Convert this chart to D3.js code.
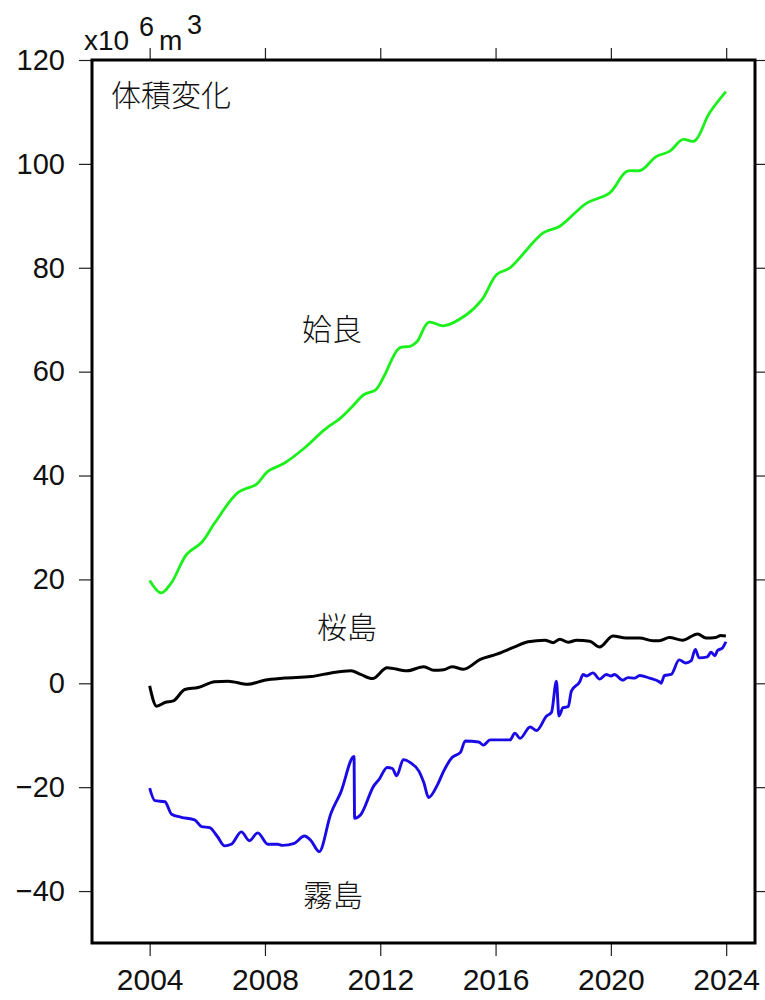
<!DOCTYPE html>
<html><head><meta charset="utf-8">
<script src="https://cdn.jsdelivr.net/npm/d3@7"></script>
<style>body{margin:0;background:#fff}svg{display:block}</style>
</head><body>
<script>
// ---- data ----
const xTicks = [2004, 2008, 2012, 2016, 2020, 2024];
const yTicks = [-40, -20, 0, 20, 40, 60, 80, 100, 120];

const airaT = [2004.0,2004.4,2004.76,2005.28,2005.8,2006.26,2007.06,2007.7,2008.1,2008.68,2009.37,2010.06,2010.63,2010.98,2011.44,2011.84,2012.13,2012.65,2013.05,2013.28,2013.68,2014.2,2015.0,2015.52,2016.04,2016.5,2017.65,2018.23,2019.15,2019.96,2020.53,2021.05,2021.57,2022.03,2022.49,2022.9,2023.41,2023.99];
const airaV = [19.8,17.4,19.4,24.8,27.1,30.9,36.7,38.3,40.8,42.4,45.3,48.8,51.1,53.0,55.6,56.5,59.1,64.5,64.9,65.8,69.5,68.8,71.0,73.8,78.7,80.0,86.7,88.0,92.4,94.4,98.5,98.8,101.4,102.4,104.7,104.4,109.7,113.9];

const sakuraT = [2004.0,2004.24,2004.53,2004.82,2005.22,2005.68,2006.26,2006.72,2007.41,2007.98,2008.68,2009.6,2010.29,2010.98,2011.32,2011.73,2012.24,2012.93,2013.51,2013.86,2014.2,2014.49,2014.89,2015.47,2016.04,2016.62,2017.13,2017.71,2018.0,2018.23,2018.52,2018.81,2019.27,2019.61,2020.07,2020.53,2021.0,2021.46,2021.68,2022.03,2022.49,2023.01,2023.3,2023.64,2023.81,2023.99];
const sakuraV = [-0.5,-4.4,-3.7,-3.4,-1.2,-0.8,0.3,0.4,-0.2,0.6,1.0,1.3,2.0,2.4,1.7,0.9,3.0,2.4,3.2,2.5,2.6,3.2,2.7,4.6,5.6,6.9,8.0,8.3,7.8,8.5,7.9,8.3,8.1,7.0,9.1,8.7,8.7,8.2,8.2,8.8,8.3,9.5,8.7,8.8,9.2,9.1];

const kirishimaT = [2004.0,2004.18,2004.53,2004.76,2005.1,2005.56,2005.8,2006.08,2006.35,2006.6,2006.83,2007.18,2007.46,2007.75,2008.1,2008.44,2008.61,2009.02,2009.37,2009.6,2009.88,2010.29,2010.63,2011.09,2011.11,2011.32,2011.78,2011.96,2012.24,2012.42,2012.57,2012.8,2013.05,2013.34,2013.51,2013.68,2013.97,2014.2,2014.49,2014.78,2014.95,2015.41,2015.58,2015.81,2016.5,2016.67,2016.85,2017.2,2017.42,2017.77,2017.94,2018.11,2018.2,2018.34,2018.52,2018.63,2018.92,2019.04,2019.15,2019.38,2019.61,2019.84,2020.01,2020.12,2020.41,2020.59,2020.82,2021.0,2021.34,2021.68,2021.74,2021.86,2022.09,2022.37,2022.6,2022.78,2022.93,2023.06,2023.35,2023.47,2023.61,2023.7,2023.87,2023.99];
const kirishimaV = [-20.2,-22.6,-22.8,-25.2,-25.8,-26.3,-27.6,-27.8,-29.5,-31.3,-31.0,-28.6,-30.3,-28.8,-31.0,-31.0,-31.2,-30.8,-29.4,-30.3,-32.4,-25.0,-21.0,-14.1,-26.0,-25.3,-19.7,-18.5,-16.2,-16.4,-17.8,-14.7,-15.3,-16.9,-19.1,-22.0,-19.7,-16.9,-14.3,-13.3,-11.1,-11.3,-11.9,-10.9,-10.9,-9.6,-10.6,-8.4,-9.1,-6.3,-5.6,0.4,-6.3,-4.7,-4.5,-1.5,0.3,1.7,1.4,2.0,0.8,1.7,1.4,1.7,0.6,1.1,1.0,1.5,1.0,0.3,0.0,1.5,1.7,4.5,3.9,4.3,6.5,4.9,5.1,6.0,5.3,6.3,6.8,8.0];

// ---- layout ----
const W = 765, H = 1000;
const L = 92, R = 755, T = 60, B = 943;
const svg = d3.select("body").append("svg").attr("width", W).attr("height", H);
const x = d3.scaleLinear().domain([2002, 2025]).range([L, R]);
const y = d3.scaleLinear().domain([-50, 120]).range([B, T]);
const numFont = "'Liberation Sans', Arial, sans-serif";
const jpFont = "'Noto Sans CJK JP', sans-serif";

// axes (ticks outward on all sides)
const tickStyle = g => { g.select(".domain").remove(); g.selectAll(".tick line").attr("stroke", "#222").attr("stroke-width", 1.2); };
svg.append("g").attr("transform", `translate(0,${B})`)
  .call(d3.axisBottom(x).tickValues(xTicks).tickSize(13).tickPadding(13).tickFormat(d3.format("d")))
  .call(tickStyle)
  .call(g => g.selectAll("text").attr("font-family", numFont).attr("font-size", 30).attr("fill", "#111"));
svg.append("g").attr("transform", `translate(0,${T})`)
  .call(d3.axisTop(x).tickValues(xTicks).tickSize(12).tickFormat(""))
  .call(tickStyle);
svg.append("g").attr("transform", `translate(${L},0)`)
  .call(d3.axisLeft(y).tickValues(yTicks).tickSize(13).tickPadding(14).tickFormat(d => d < 0 ? "\u2212" + Math.abs(d) : d))
  .call(tickStyle)
  .call(g => g.selectAll("text").attr("font-family", numFont).attr("font-size", 29).attr("fill", "#111"));
svg.append("g").attr("transform", `translate(${R},0)`)
  .call(d3.axisRight(y).tickValues(yTicks).tickSize(12).tickFormat(""))
  .call(tickStyle);

// lines
const mk = (ts, vs) => ts.map((t, i) => [t, vs[i]]);
svg.append("path").datum(mk(airaT, airaV))
  .attr("d", d3.line().x(d => x(d[0])).y(d => y(d[1])).curve(d3.curveCatmullRom))
  .attr("fill", "none").attr("stroke", "#1bf01b").attr("stroke-width", 2.8);
svg.append("path").datum(mk(sakuraT, sakuraV))
  .attr("d", d3.line().x(d => x(d[0])).y(d => y(d[1])).curve(d3.curveMonotoneX))
  .attr("fill", "none").attr("stroke", "#000").attr("stroke-width", 3).attr("stroke-linejoin", "round");
svg.append("path").datum(mk(kirishimaT, kirishimaV))
  .attr("d", d3.line().x(d => x(d[0])).y(d => y(d[1])).curve(d3.curveMonotoneX))
  .attr("fill", "none").attr("stroke", "#1a0ae6").attr("stroke-width", 2.9).attr("stroke-linejoin", "round");

// frame
svg.append("rect").attr("x", L).attr("y", T).attr("width", R - L).attr("height", B - T)
  .attr("fill", "none").attr("stroke", "#000").attr("stroke-width", 3);

// unit label
const u = svg.append("text").attr("font-family", numFont).attr("font-size", 28).attr("fill", "#111").attr("x", 84).attr("y", 50);
u.append("tspan").text("x10");
u.append("tspan").attr("x", 139).attr("y", 36).attr("font-size", 27).text("6");
u.append("tspan").attr("x", 159).attr("y", 50).text("m");
u.append("tspan").attr("x", 187).attr("y", 34).attr("font-size", 27).text("3");

// Japanese labels
const jp = (t, cx, cy) => svg.append("text").attr("x", cx).attr("y", cy).attr("text-anchor", "middle")
  .attr("dominant-baseline", "central").attr("font-family", jpFont).attr("font-weight", 300)
  .attr("font-size", 30).attr("fill", "#111").text(t);
svg.append("text").attr("x", 111).attr("y", 93).attr("dominant-baseline", "central")
  .attr("font-family", jpFont).attr("font-weight", 300).attr("font-size", 30).attr("fill", "#111").text("体積変化");
jp("姶良", 332, 327);
jp("桜島", 347, 625);
jp("霧島", 333, 893);
</script>
</body></html>
